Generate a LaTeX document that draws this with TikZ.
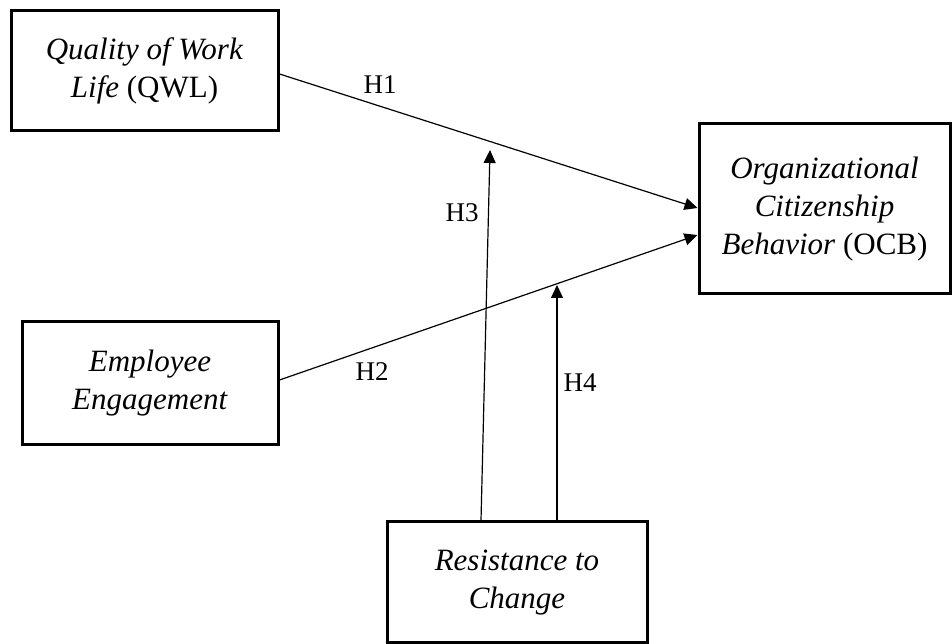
\documentclass[tikz,border=0pt]{standalone}
\usepackage{fontspec}
\setmainfont{Liberation Serif}
\usetikzlibrary{arrows.meta,calc}
\begin{document}
\begin{tikzpicture}[x=1pt,y=1pt,
  box/.style={draw=black,line width=3pt,align=center,inner sep=0pt,
    font=\fontsize{31}{38}\selectfont},
  conn/.style={line width=1.2pt,-{Triangle[length=13pt,width=12pt]}},
  hlab/.style={font=\fontsize{27}{30}\selectfont,inner sep=0pt}]
\useasboundingbox (0,0) rectangle (952,644);
\node[box,minimum width=267,minimum height=120] (qwl) at (144.5,573)
  {\textit{Quality of Work}\\\textit{Life} (QWL)};
\node[box,minimum width=251,minimum height=170] (ocb) at (824.5,435)
  {\textit{Organizational}\\\textit{Citizenship}\\\textit{Behavior} (OCB)};
\node[box,minimum width=256,minimum height=123] (ee) at (150,260.5)
  {\textit{Employee}\\\textit{Engagement}};
\node[box,minimum width=260,minimum height=121] (rc) at (517,61.5)
  {\textit{Resistance to}\\\textit{Change}};
\coordinate (h3tip) at (490,494);
\coordinate (h4tip) at (557,359);
\draw[conn] ($(qwl.east)+(0,-3)$) -- ($(ocb.west)+(0,1)$);
\draw[conn] ($(ee.east)+(0,3.5)$) -- ($(ocb.west)+(0,-26)$);
\draw[conn] ($(rc.north)+(-36,0)$) -- (h3tip);
\draw[conn] ($(rc.north)+(40,0)$) -- (h4tip);
\node[hlab] (h1) at (380,559) {H1};
\node[hlab] (h2) at (372,272) {H2};
\node[hlab] (h3) at (462,431) {H3};
\node[hlab] (h4) at (580,261) {H4};
\end{tikzpicture}
\end{document}
